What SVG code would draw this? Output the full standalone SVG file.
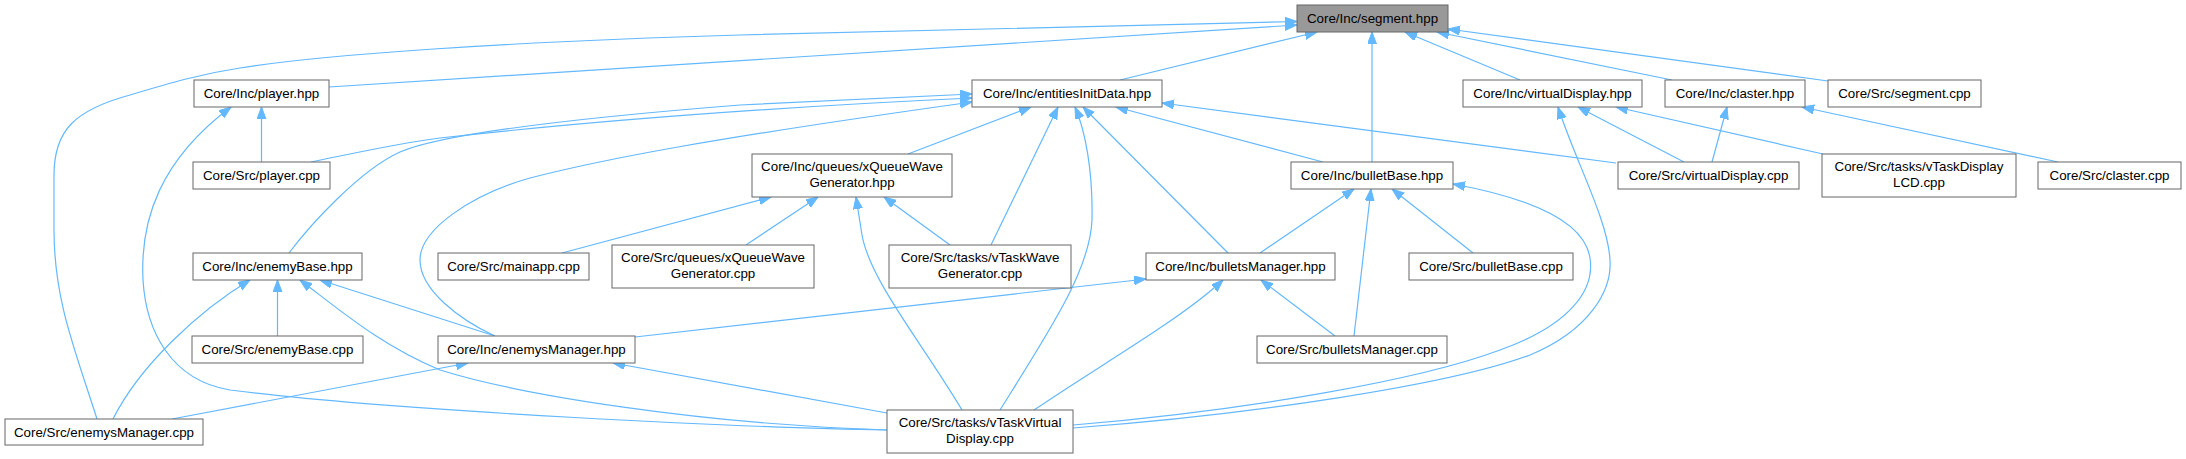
<svg xmlns="http://www.w3.org/2000/svg" width="2186" height="459" viewBox="0 0 2186 459">
<style>
.n rect{fill:#ffffff;stroke:#666666;stroke-width:1}
.n text{font-family:"Liberation Sans",Arial,sans-serif;font-size:13.33px;fill:#000000;text-anchor:middle}
#segment_hpp rect{fill:#999999}
.e path{fill:none;stroke:#63b8ff;stroke-width:1.2;marker-end:url(#arr)}
</style>
<defs>
<marker id="arr" markerUnits="userSpaceOnUse" markerWidth="13" markerHeight="10" refX="12" refY="4.5" orient="auto">
<path d="M0,0 L12,4.5 L0,9 z" fill="#63b8ff" stroke="#63b8ff" stroke-width="1"/>
</marker>
</defs>
<rect width="2186" height="459" fill="#ffffff"/>
<g id="connectors" class="e">
<path d="M97,419 C75,350 54,300 54,230 L54,175 C54,130 75,110 130,95 C170,83 200,74 240,68 C320,55 500,42 740,35 L1297,21.5"/>
<path d="M329,87 L1297,25"/>
<path d="M1120,80 L1317,32"/>
<path d="M1372,162 L1372,32"/>
<path d="M1520,80 L1405,32"/>
<path d="M1672,80 L1437,32"/>
<path d="M1828,81 L1448,29"/>
<path d="M311,162 C360,152 400,143 440,138 C600,120 800,106 972,98"/>
<path d="M289,253 C310,225 360,170 400,152 C440,135 550,120 740,105 L972,94"/>
<path d="M495,336 C460,320 420,290 420,260 C420,230 470,195 530,178 C600,160 700,140 972,102"/>
<path d="M887,430 C760,428 400,412 230,390 C170,380 146,330 143,280 C140,220 160,160 231,107"/>
<path d="M261.5,162 L261.5,107"/>
<path d="M887,430 C700,424 520,395 440,370 C380,345 340,310 300,280"/>
<path d="M495,336 L320,280"/>
<path d="M113,419 C140,365 200,310 250,280"/>
<path d="M277.5,336 L277.5,280"/>
<path d="M172,419 L468,363"/>
<path d="M887,413 L613,363"/>
<path d="M635,337 L1146,279"/>
<path d="M562,253 L771,197"/>
<path d="M746,245 L818,197"/>
<path d="M962,410 C920,340 870,280 862,235 L856,197"/>
<path d="M950,245 L884,197"/>
<path d="M908,154 L1031,107"/>
<path d="M991,245 L1058,107"/>
<path d="M1000,410 C1050,330 1090,270 1092,220 C1093,170 1085,130 1075,107"/>
<path d="M1228,253 L1083,107"/>
<path d="M1323,162 L1116,107"/>
<path d="M1616,163 L1162,103"/>
<path d="M1684,162 L1578,107"/>
<path d="M1823,154 L1616,107"/>
<path d="M1073,428 C1250,415 1450,385 1530,355 C1590,330 1612,290 1610,260 C1608,220 1575,160 1558,107"/>
<path d="M1073,425 C1250,410 1420,380 1500,350 C1570,325 1595,290 1590,258 C1585,225 1540,200 1453,184"/>
<path d="M1260,253 L1354,189"/>
<path d="M1354,336 L1371,189"/>
<path d="M1473,253 L1392,189"/>
<path d="M1335,336 L1261,280"/>
<path d="M1034,410 C1100,365 1180,320 1223,280"/>
<path d="M2058,162 L1802,107"/>
<path d="M1712,162 L1727,107"/>
</g>
<g id="segment_hpp" class="n"><rect x="1297" y="5" width="151" height="27"/><text x="1372.5" y="23">Core/Inc/segment.hpp</text></g>
<g id="player_hpp" class="n"><rect x="194" y="80" width="135" height="27"/><text x="261.5" y="98">Core/Inc/player.hpp</text></g>
<g id="entitiesInitData_hpp" class="n"><rect x="972" y="80" width="190" height="27"/><text x="1067" y="98">Core/Inc/entitiesInitData.hpp</text></g>
<g id="virtualDisplay_hpp" class="n"><rect x="1463" y="80" width="179" height="27"/><text x="1552.5" y="98">Core/Inc/virtualDisplay.hpp</text></g>
<g id="claster_hpp" class="n"><rect x="1665" y="80" width="140" height="27"/><text x="1735" y="98">Core/Inc/claster.hpp</text></g>
<g id="segment_cpp" class="n"><rect x="1828" y="80" width="153" height="27"/><text x="1904.5" y="98">Core/Src/segment.cpp</text></g>
<g id="player_cpp" class="n"><rect x="193" y="162" width="137" height="27"/><text x="261.5" y="180">Core/Src/player.cpp</text></g>
<g id="xQueueWaveGenerator_hpp" class="n"><rect x="752" y="154" width="200" height="43"/><text x="852" y="171">Core/Inc/queues/xQueueWave</text><text x="852" y="187">Generator.hpp</text></g>
<g id="bulletBase_hpp" class="n"><rect x="1291" y="162" width="162" height="27"/><text x="1372" y="180">Core/Inc/bulletBase.hpp</text></g>
<g id="virtualDisplay_cpp" class="n"><rect x="1618" y="162" width="181" height="27"/><text x="1708.5" y="180">Core/Src/virtualDisplay.cpp</text></g>
<g id="vTaskDisplayLCD_cpp" class="n"><rect x="1822" y="154" width="194" height="43"/><text x="1919" y="171">Core/Src/tasks/vTaskDisplay</text><text x="1919" y="187">LCD.cpp</text></g>
<g id="claster_cpp" class="n"><rect x="2038" y="162" width="143" height="27"/><text x="2109.5" y="180">Core/Src/claster.cpp</text></g>
<g id="enemyBase_hpp" class="n"><rect x="193" y="253" width="169" height="27"/><text x="277.5" y="271">Core/Inc/enemyBase.hpp</text></g>
<g id="mainapp_cpp" class="n"><rect x="438" y="253" width="151" height="27"/><text x="513.5" y="271">Core/Src/mainapp.cpp</text></g>
<g id="xQueueWaveGenerator_cpp" class="n"><rect x="612" y="245" width="202" height="43"/><text x="713" y="262">Core/Src/queues/xQueueWave</text><text x="713" y="278">Generator.cpp</text></g>
<g id="vTaskWaveGenerator_cpp" class="n"><rect x="889" y="245" width="182" height="43"/><text x="980" y="262">Core/Src/tasks/vTaskWave</text><text x="980" y="278">Generator.cpp</text></g>
<g id="bulletsManager_hpp" class="n"><rect x="1146" y="253" width="189" height="27"/><text x="1240.5" y="271">Core/Inc/bulletsManager.hpp</text></g>
<g id="bulletBase_cpp" class="n"><rect x="1409" y="253" width="164" height="27"/><text x="1491" y="271">Core/Src/bulletBase.cpp</text></g>
<g id="enemyBase_cpp" class="n"><rect x="192" y="336" width="171" height="27"/><text x="277.5" y="354">Core/Src/enemyBase.cpp</text></g>
<g id="enemysManager_hpp" class="n"><rect x="438" y="336" width="197" height="27"/><text x="536.5" y="354">Core/Inc/enemysManager.hpp</text></g>
<g id="bulletsManager_cpp" class="n"><rect x="1257" y="336" width="190" height="27"/><text x="1352" y="354">Core/Src/bulletsManager.cpp</text></g>
<g id="enemysManager_cpp" class="n"><rect x="5" y="419" width="198" height="26"/><text x="104" y="437">Core/Src/enemysManager.cpp</text></g>
<g id="vTaskVirtualDisplay_cpp" class="n"><rect x="887" y="410" width="186" height="43"/><text x="980" y="427">Core/Src/tasks/vTaskVirtual</text><text x="980" y="443">Display.cpp</text></g>
</svg>
